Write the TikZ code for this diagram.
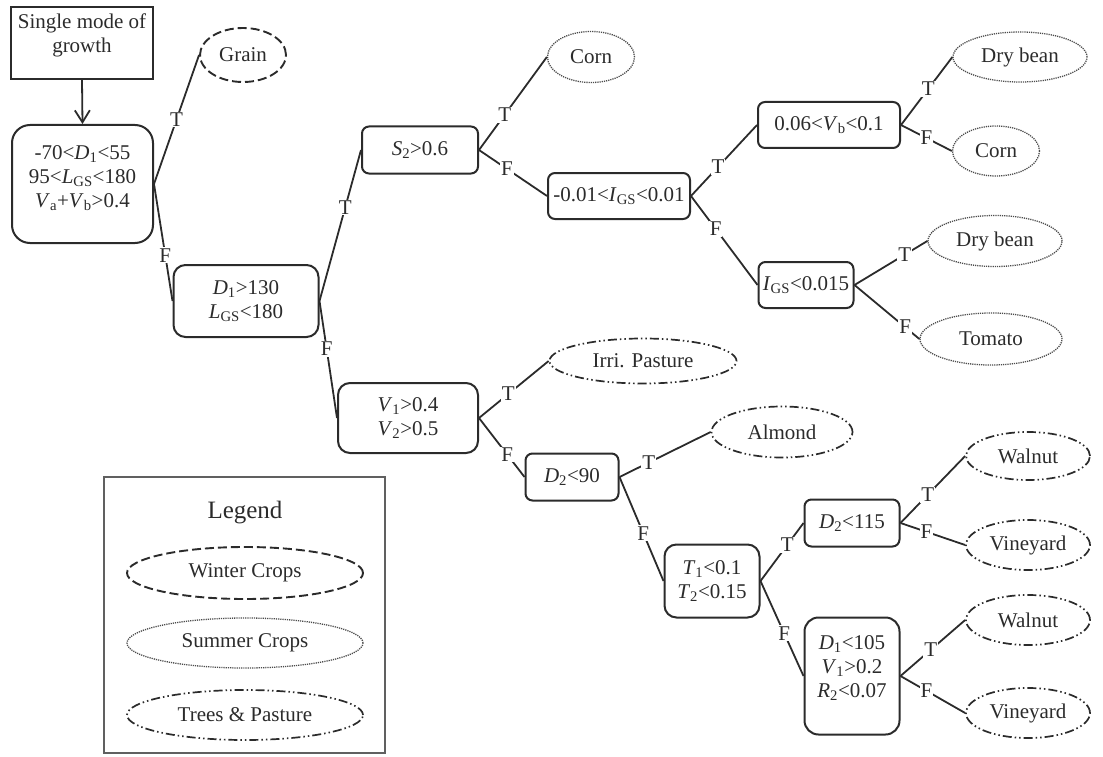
\documentclass[tikz,border=0pt]{standalone}
\usepackage{fontspec}
\setmainfont{Liberation Serif}
\usetikzlibrary{shapes.geometric,arrows.meta}
\definecolor{ink}{HTML}{2B2B2B}
\newcommand\vv[2]{\textit{#1}\textsubscript{#2}}
\begin{document}
\begin{tikzpicture}[x=1pt,y=-1pt,
  every node/.style={font=\fontsize{21}{24}\selectfont, text=ink},
  box/.style={draw=ink, line width=2pt, rounded corners=#1, align=center, inner sep=0pt},
  box/.default=7pt,
  leaf/.style={ellipse, inner sep=0pt},
  winter/.style={leaf, draw=ink, line width=1.9pt, dash pattern=on 9pt off 4pt},
  summer/.style={leaf, draw=ink!85, line width=1.3pt, dash pattern=on 1.2pt off 1pt},
  trees/.style={leaf, draw=ink, line width=1.7pt, dash pattern=on 9pt off 3pt on 1.5pt off 3pt on 1.5pt off 3pt},
  conn/.style={draw=ink, line width=1.8pt},
  lab/.style={fill=white, inner sep=1pt, font=\fontsize{21}{23}\selectfont},
  plain/.style={align=center, inner sep=0pt}
]
\useasboundingbox (0,0) rectangle (1103,757);

% start
\node[draw=ink, line width=2pt, minimum width=142pt, minimum height=72pt, inner sep=0pt] (start) at (82,43) {};
\node[plain, anchor=north] (starttxt) at (82,14) {Single mode of\\growth};

% decision boxes
\node[box=18pt, minimum width=141pt, minimum height=118pt] (root) at (82.5,184) {};
\node[plain] (roottxt) at (82.5,178)
  {-70<\vv{D}{1}<55\\95<\vv{L}{GS}<180\\\vv{V}{a}+\vv{V}{b}>0.4};
\node[box=12pt, minimum width=145pt, minimum height=72pt] (d1) at (246,301)
  {\vv{D}{1}>130\\\vv{L}{GS}<180};
\node[box, minimum width=116pt, minimum height=47pt] (s2) at (420,150) {\vv{S}{2}>0.6};
\node[box, minimum width=142pt, minimum height=46pt] (igs1) at (619,196) {-0.01<\vv{I}{GS}<0.01};
\node[box, minimum width=142pt, minimum height=46pt] (vb) at (829,125) {0.06<\vv{V}{b}<0.1};
\node[box, minimum width=95pt, minimum height=46pt] (igs2) at (806,285) {\vv{I}{GS}<0.015};
\node[box=12pt, minimum width=140pt, minimum height=70pt] (v1) at (408,418)
  {\vv{V}{1}>0.4\\\vv{V}{2}>0.5};
\node[box, minimum width=93pt, minimum height=47pt] (d2a) at (572,477) {\vv{D}{2}<90};
\node[box=12pt, minimum width=95pt, minimum height=73pt] (t1) at (712,581)
  {\vv{T}{1}<0.1\\\vv{T}{2}<0.15};
\node[box, minimum width=95pt, minimum height=47pt] (d2b) at (852,523) {\vv{D}{2}<115};
\node[box=14pt, minimum width=95pt, minimum height=117pt] (d1b) at (852,676) {};
\node[plain] (d1btxt) at (852,668)
  {\vv{D}{1}<105\\\vv{V}{1}>0.2\\\vv{R}{2}<0.07};

% leaves
\node[winter, minimum width=86pt, minimum height=54pt] (grain) at (243,55) {Grain};
\node[summer, minimum width=87pt, minimum height=51pt] (corn1) at (591,57) {Corn};
\node[summer, minimum width=134pt, minimum height=50pt] (bean1) at (1020,57) {Dry bean};
\node[summer, minimum width=87pt, minimum height=50pt] (corn2) at (996,151) {Corn};
\node[summer, minimum width=134pt, minimum height=51pt] (bean2) at (995,241) {Dry bean};
\node[summer, minimum width=142pt, minimum height=52pt] (tomato) at (991,339) {Tomato};
\node[trees, minimum width=187pt, minimum height=45pt] (irri) at (643,361) {Irri. Pasture};
\node[trees, minimum width=141pt, minimum height=51pt] (almond) at (782,432) {Almond};
\node[trees, minimum width=124pt, minimum height=48pt] (walnut1) at (1028,456) {Walnut};
\node[trees, minimum width=124pt, minimum height=50pt] (vine1) at (1028,545) {Vineyard};
\node[trees, minimum width=124pt, minimum height=50pt] (walnut2) at (1028,620) {Walnut};
\node[trees, minimum width=124pt, minimum height=50pt] (vine2) at (1028,713) {Vineyard};

% connectors
\draw[conn, -{Straight Barb[length=12pt,width=15pt,line width=1.8pt]}] (start.south) -- (root.north);
\draw[conn] (root.east) -- node[lab, pos=0.5] {T} (grain.west);
\draw[conn] (root.east) -- node[lab, pos=0.61] {F} (d1.west);
\draw[conn] (d1.east) -- node[lab, pos=0.62] {T} (s2.west);
\draw[conn] (d1.east) -- node[lab, pos=0.41] {F} (v1.west);
\draw[conn] (s2.east) -- node[lab, pos=0.38] {T} (corn1.west);
\draw[conn] (s2.east) -- node[lab, pos=0.41] {F} (igs1.west);
\draw[conn] (igs1.east) -- node[lab, pos=0.41] {T} (vb.west);
\draw[conn] (igs1.east) -- node[lab, pos=0.37] {F} (igs2.west);
\draw[conn] (vb.east) -- node[lab, pos=0.53] {T} (bean1.west);
\draw[conn] (vb.east) -- node[lab, pos=0.5] {F} (corn2.west);
\draw[conn] (igs2.east) -- node[lab, pos=0.69] {T} (bean2.west);
\draw[conn] (igs2.east) -- node[lab, pos=0.78] {F} (tomato.west);
\draw[conn] (v1.east) -- node[lab, pos=0.42] {T} (irri.west);
\draw[conn] (v1.east) -- node[lab, pos=0.62] {F} (d2a.west);
\draw[conn] (d2a.east) -- node[lab, pos=0.32] {T} (almond.west);
\draw[conn] (d2a.east) -- node[lab, pos=0.54] {F} (t1.west);
\draw[conn] (t1.east) -- node[lab, pos=0.62] {T} (d2b.west);
\draw[conn] (t1.east) -- node[lab, pos=0.55] {F} (d1b.west);
\draw[conn] (d2b.east) -- node[lab, pos=0.42] {T} (walnut1.west);
\draw[conn] (d2b.east) -- node[lab, pos=0.4] {F} (vine1.west);
\draw[conn] (d1b.east) -- node[lab, pos=0.47] {T} (walnut2.west);
\draw[conn] (d1b.east) -- node[lab, pos=0.4] {F} (vine2.west);

% legend
\node[draw=ink!75, line width=2pt, minimum width=281pt, minimum height=276pt, inner sep=0pt] (legend) at (244.5,615) {};
\node[font=\fontsize{25}{28}\selectfont] (legtitle) at (245,513) {Legend};
\node[winter, minimum width=236pt, minimum height=52pt] (lwinter) at (245,573) {Winter Crops};
\node[summer, minimum width=236pt, minimum height=50pt] (lsummer) at (245,643) {Summer Crops};
\node[trees, minimum width=236pt, minimum height=50pt] (ltrees) at (245,715) {Trees \& Pasture};
\end{tikzpicture}
\end{document}
